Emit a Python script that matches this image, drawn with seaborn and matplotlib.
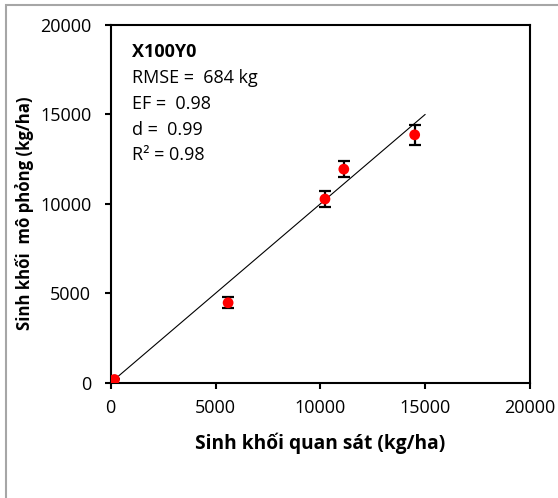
import matplotlib
matplotlib.use("Agg")
import matplotlib.pyplot as plt
import seaborn as sns
import pandas as pd
from matplotlib.patches import Rectangle

# Observed vs simulated biomass (kg/ha), treatment X100Y0
observed = [180, 5600, 10220, 11120, 14500]
simulated = [180, 4470, 10270, 11940, 13860]
sim_err = [0, 300, 440, 460, 570]

one_to_one = [0, 15000]

stats_title = "X100Y0"
stats_lines = ["RMSE =  684 kg", "EF =  0.98", "d =  0.99", "R\u00b2 = 0.98"]

x_ticks = [0, 5000, 10000, 15000, 20000]
y_ticks = [0, 5000, 10000, 15000, 20000]

sns.set_theme(style="white")
plt.rcParams["font.family"] = ["Open Sans", "DejaVu Sans"]

df = pd.DataFrame({"obs": observed, "sim": simulated, "err": sim_err})
line_df = pd.DataFrame({"x": one_to_one, "y": one_to_one})

fig = plt.figure(figsize=(5.58, 4.98), dpi=100)
ax = fig.add_axes([0.1984, 0.2315, 0.7514, 0.7183])

# 1:1 reference line
sns.lineplot(data=line_df, x="x", y="y", ax=ax, color="black", linewidth=0.8)

# error bars then points
ax.errorbar(df["obs"], df["sim"], yerr=df["err"], fmt="none", ecolor="black",
            elinewidth=1.6, capsize=4.5, capthick=1.6, zorder=3)
sns.scatterplot(data=df, x="obs", y="sim", ax=ax, color="#ff0000", s=60,
                edgecolor="none", zorder=4)

ax.set_xlim(0, 20000)
ax.set_ylim(0, 20000)
ax.set_xticks(x_ticks)
ax.set_yticks(y_ticks)
ax.set_xticklabels([str(t) for t in x_ticks])
ax.set_yticklabels([str(t) for t in y_ticks])

for s in ax.spines.values():
    s.set_visible(True)
    s.set_color("black")
    s.set_linewidth(1.5)

ax.tick_params(axis="x", direction="out", length=4, width=1.5, pad=8,
               labelsize=13, colors="black", bottom=True)
ax.tick_params(axis="y", direction="out", length=4, width=1.5, pad=10,
               labelsize=13, colors="black", left=True)

ax.set_xlabel("Sinh kh\u1ed1i quan s\u00e1t (kg/ha)", fontsize=13.8,
              fontweight="bold", labelpad=11, color="black")
ax.set_ylabel("Sinh kh\u1ed1i  m\u00f4 ph\u1ecfng (kg/ha)", fontsize=12.1,
              fontweight="bold", color="black")
ax.yaxis.set_label_coords(-0.183, 0.475)

ax.text(0.051, 0.9105, stats_title, transform=ax.transAxes, fontsize=13,
        fontweight="bold", va="baseline", ha="left", color="black")
ys = [0.838, 0.765, 0.693, 0.622]
for y, t in zip(ys, stats_lines):
    ax.text(0.051, y, t, transform=ax.transAxes, fontsize=13, va="baseline",
            ha="left", color="black")

# chart-area frame
fig.patches.append(Rectangle((5.5 / 558, -0.1), 1.2, 1.1 - 5.5 / 498,
                             transform=fig.transFigure, fill=False,
                             edgecolor="#a6a6a6", linewidth=1.5))

fig.savefig("out.png", dpi=100)
